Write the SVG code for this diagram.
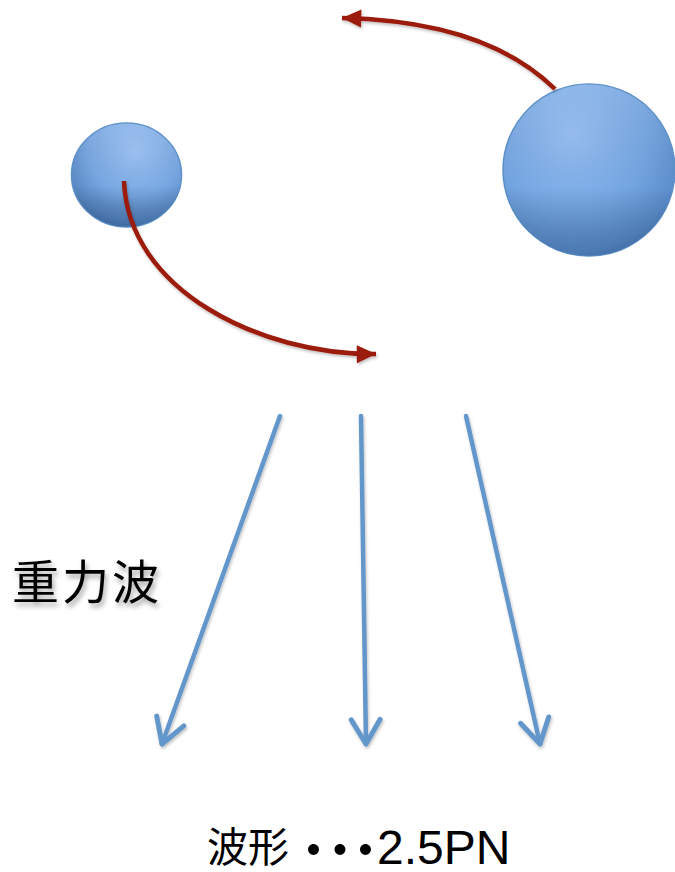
<svg xmlns="http://www.w3.org/2000/svg" width="675" height="872" viewBox="0 0 675 872">
<style>
.orbit{fill:none;stroke:#9b1a08;stroke-width:4.5}
.wave{fill:none;stroke:#6397cb;stroke-width:4.5;stroke-linecap:round}
.ball{stroke:#5d90c9;stroke-width:1.5}
.cjk{font-family:"Liberation Sans","Noto Sans CJK JP",sans-serif;fill:#000}
.dot{font-family:"Noto Sans CJK JP",sans-serif;font-weight:900}
</style>
<defs>
<radialGradient id="gSmall" cx="0.58" cy="0.28" r="0.78">
<stop offset="0" stop-color="#9cc3f6"/>
<stop offset="0.55" stop-color="#77a7e2"/>
<stop offset="0.85" stop-color="#5787c3"/>
<stop offset="1" stop-color="#3f6da6"/>
</radialGradient>
<radialGradient id="gBig" cx="0.4" cy="0.3" r="0.8">
<stop offset="0" stop-color="#97bff4"/>
<stop offset="0.55" stop-color="#74a6e2"/>
<stop offset="0.85" stop-color="#5a8cca"/>
<stop offset="1" stop-color="#3f6ca3"/>
</radialGradient>
<linearGradient id="gShade" x1="0" y1="0" x2="0" y2="1">
<stop offset="0" stop-color="#ffffff" stop-opacity="0.12"/>
<stop offset="0.6" stop-color="#000000" stop-opacity="0"/>
<stop offset="1" stop-color="#1c3f6e" stop-opacity="0.25"/>
</linearGradient>
<filter id="shadow" x="-20%" y="-20%" width="140%" height="160%">
<feDropShadow dx="2" dy="4" stdDeviation="2.5" flood-color="#000" flood-opacity="0.35"/>
</filter>
<filter id="soft" x="-20%" y="-20%" width="140%" height="140%">
<feDropShadow dx="1" dy="2" stdDeviation="1.5" flood-color="#000" flood-opacity="0.25"/>
</filter>
<marker id="redHead" markerUnits="userSpaceOnUse" markerWidth="24" markerHeight="24" viewBox="-18 -9 20 18" refX="0" refY="0" orient="auto">
<path d="M -16 -7.5 L 0 0 L -16 7.5 Z" fill="#9b1a08"/>
</marker>
<marker id="blueHead" markerUnits="userSpaceOnUse" markerWidth="40" markerHeight="40" viewBox="-28 -18 32 36" refX="0" refY="0" orient="auto">
<path d="M -22 -13 L 0 0 L -22 13" fill="none" stroke="#6397cb" stroke-width="4.5" stroke-linecap="round" stroke-linejoin="round"/>
</marker>
</defs>

<g id="star-small">
<ellipse cx="126.5" cy="175" rx="55" ry="52" fill="url(#gSmall)" class="ball"/>
<ellipse cx="126.5" cy="175" rx="55" ry="52" fill="url(#gShade)"/>
</g>
<g id="star-large">
<circle cx="589" cy="170" r="86" fill="url(#gBig)" class="ball"/>
<circle cx="589" cy="170" r="86" fill="url(#gShade)"/>
</g>

<g id="connectors">
<path class="orbit" filter="url(#soft)" d="M 555 89 C 510 45, 440 20, 342 18" marker-end="url(#redHead)"/>
<path class="orbit" filter="url(#soft)" d="M 124 181 C 128 290, 260 355, 376 354" marker-end="url(#redHead)"/>
<g filter="url(#soft)">
<line class="wave" x1="280" y1="416" x2="162" y2="744" marker-end="url(#blueHead)"/>
<line class="wave" x1="361" y1="416" x2="366" y2="744" marker-end="url(#blueHead)"/>
<line class="wave" x1="466" y1="416" x2="540" y2="744" marker-end="url(#blueHead)"/>
</g>
</g>

<g id="label-gw">
<text class="cjk" x="12" y="599" font-size="47" letter-spacing="3" filter="url(#shadow)">重力波</text>
</g>

<g id="label-waveform">
<text class="cjk" font-size="41"><tspan x="207" y="862">波形</tspan><tspan class="dot" x="313.5" y="869" text-anchor="middle" font-size="52">･</tspan><tspan class="dot" x="340" y="869" text-anchor="middle" font-size="52">･</tspan><tspan class="dot" x="365.5" y="869" text-anchor="middle" font-size="52">･</tspan><tspan x="377" y="864" font-size="48">2.5PN</tspan></text>
</g>
</svg>
